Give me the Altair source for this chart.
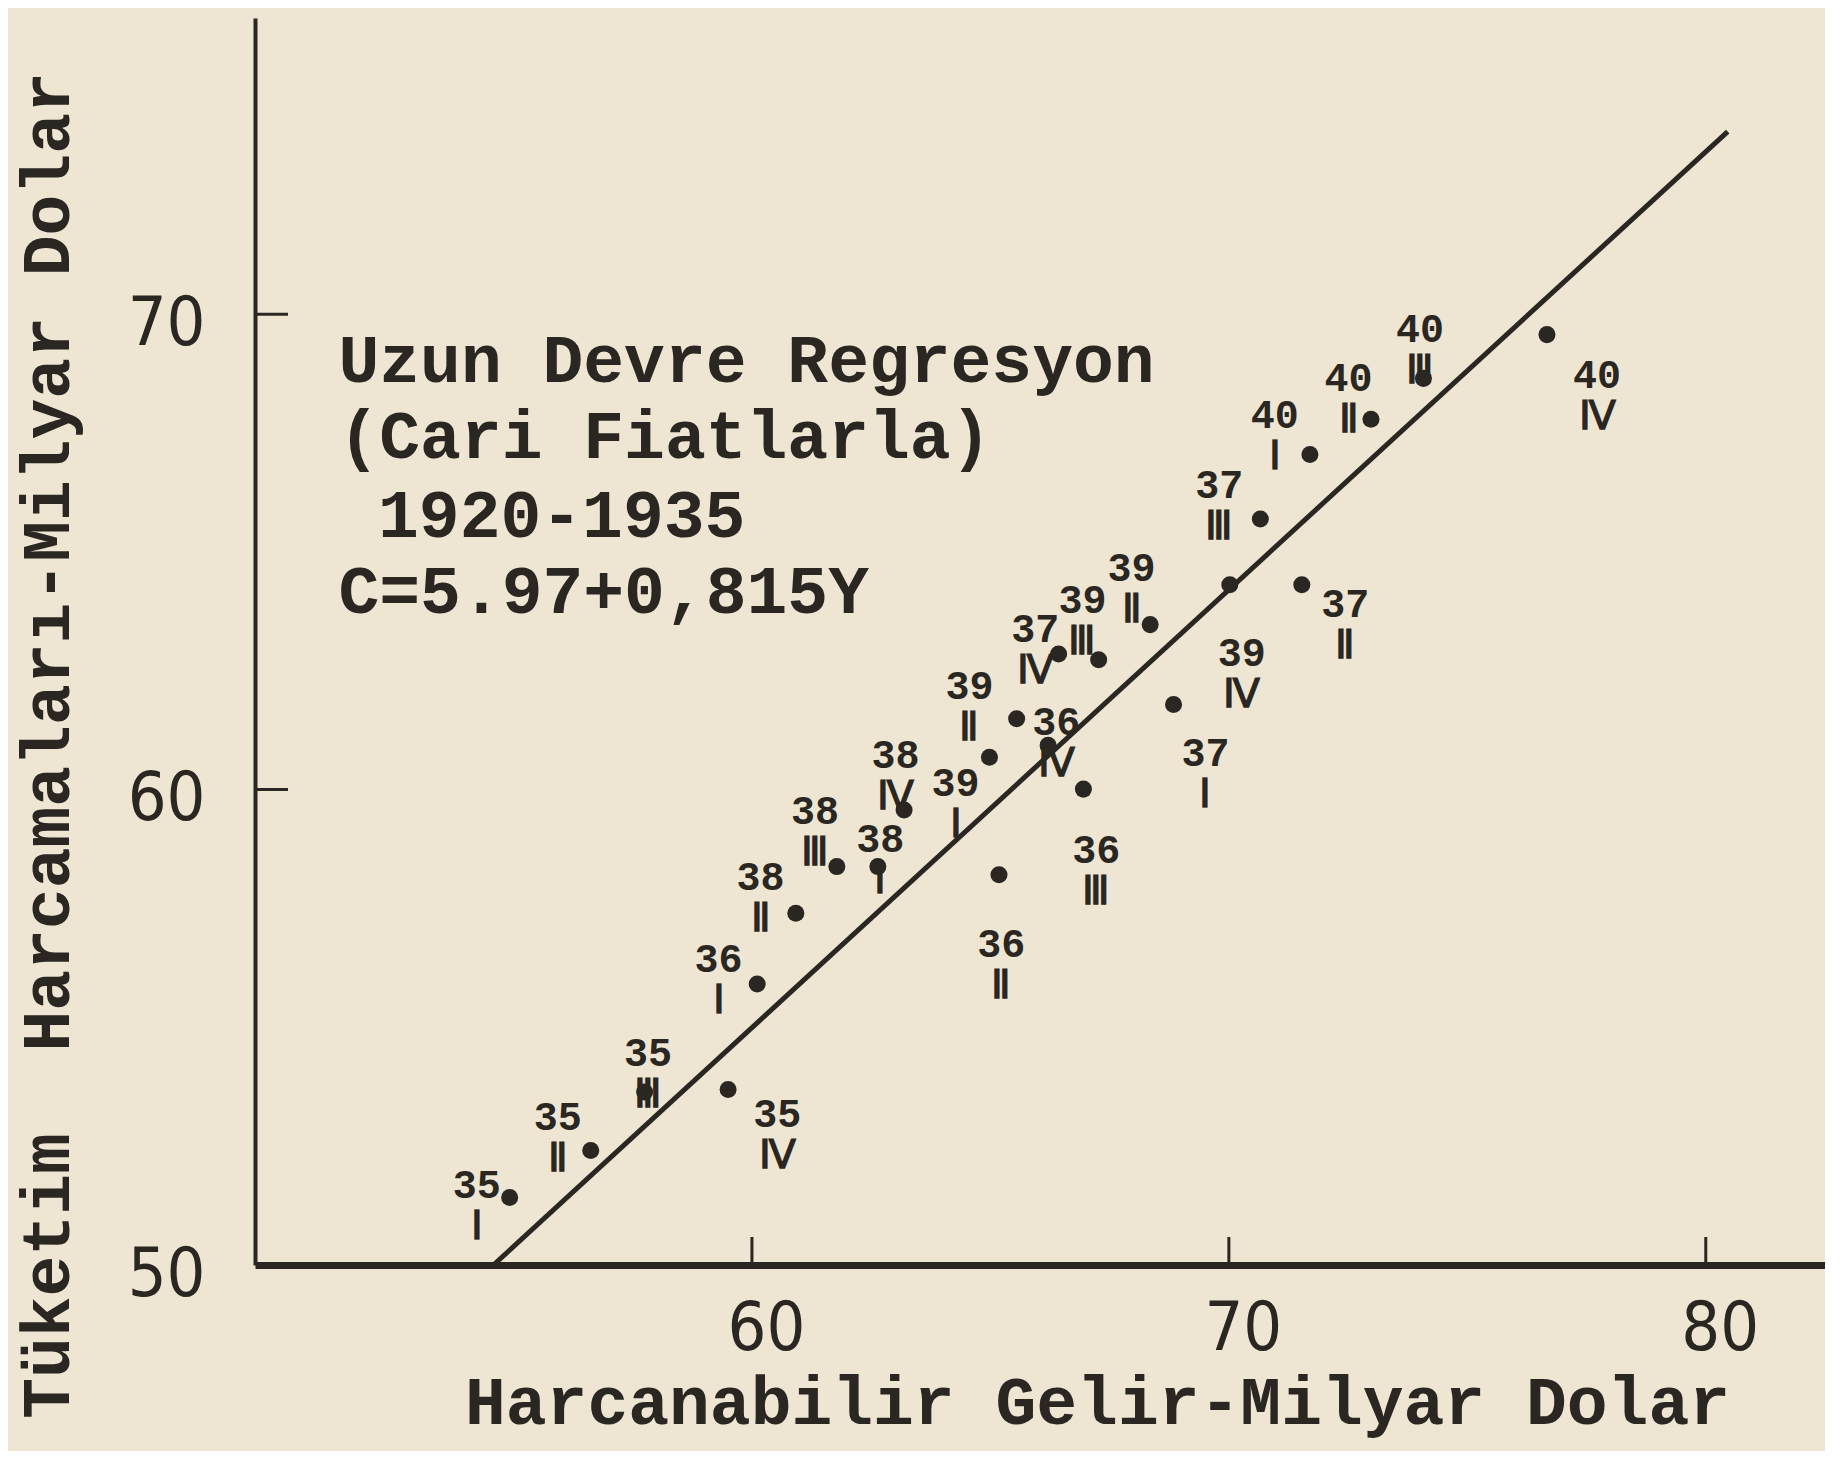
import altair as alt
import pandas as pd

INK = "#2a2622"
PAPER = "#eee6d2"
MONO = "'Liberation Mono', 'Courier New', Courier, monospace"
NARROW = "'Liberation Sans Narrow', 'DejaVu Sans Condensed', sans-serif"

# ---- data ----
years = ["35", "35", "35", "35",
         "36", "36", "36", "36",
         "37", "37", "37", "37",
         "38", "38", "38", "38",
         "39", "39", "39", "39", "39",
         "40", "40", "40", "40"]
quarters = ["Ⅰ", "Ⅱ", "Ⅲ", "Ⅳ",
            "Ⅰ", "Ⅱ", "Ⅲ", "Ⅳ",
            "Ⅰ", "Ⅱ", "Ⅲ", "Ⅳ",
            "Ⅰ", "Ⅱ", "Ⅲ", "Ⅳ",
            "Ⅰ", "Ⅱ", "Ⅲ", "Ⅳ", "Ⅱ",
            "Ⅰ", "Ⅱ", "Ⅲ", "Ⅳ"]
income = [54.92, 56.62, 57.75, 59.50,
          60.11, 65.18, 66.95, 66.21,
          68.84, 71.53, 70.66, 66.43,
          62.64, 60.92, 61.78, 63.19,
          64.98, 68.35, 67.27, 70.02, 65.55,
          71.70, 72.98, 74.08, 76.67]
consumption = [51.42, 52.41, 53.64, 53.69,
               55.91, 58.21, 60.01, 60.93,
               61.79, 64.31, 65.69, 62.85,
               58.38, 57.40, 58.38, 59.57,
               60.68, 63.47, 62.73, 64.31, 61.49,
               67.05, 67.79, 68.65, 69.57]
# label anchors (data units)
label_x = [54.23, 55.93, 57.82, 60.53,
           59.30, 65.23, 67.22, 66.38,
           69.51, 72.44, 69.80, 65.94,
           62.69, 60.18, 61.32, 63.01,
           64.27, 67.96, 66.93, 70.27, 64.56,
           70.96, 72.51, 74.01, 77.72]
label_y = [51.67, 53.10, 54.43, 53.15,
           56.41, 56.73, 58.70, 61.40,
           60.75, 63.89, 66.38, 63.35,
           58.95, 58.14, 59.52, 60.70,
           60.11, 64.63, 63.96, 62.85, 62.16,
           67.86, 68.63, 69.67, 68.70]

# regression line end points as drawn
line_x = [54.58, 80.46]
line_y = [50.0, 73.84]

# annotation block
note_lines = ["Uzun Devre Regresyon", "(Cari Fiatlarla)", "1920-1935", "C=5.97+0,815Y"]
note_x = [51.33, 51.33, 52.16, 51.33]
note_y = [69.00, 67.40, 65.74, 64.14]

x_ticks = [60, 70, 80]
y_ticks = [50, 60, 70]
x_domain = [49.58, 82.5]
y_domain = [50.0, 76.23]

x_title = "Harcanabilir Gelir-Milyar Dolar"
y_title = "Tüketim\u00a0 Harcamaları-Milyar Dolar"

# ---- tables ----
pts = pd.DataFrame({
    "year": years, "q": quarters, "inc": income, "con": consumption,
    "lx": label_x, "ly": label_y,
})
pts["label"] = pts["year"] + "\n" + pts["q"]
reg = pd.DataFrame({"inc": line_x, "con": line_y})
note = pd.DataFrame({"t": note_lines, "y": note_y, "x": note_x})
xt = pd.DataFrame({"v": x_ticks})
yt = pd.DataFrame({"v": [v for v in y_ticks if v > y_domain[0]]})

xs = alt.Scale(domain=x_domain, nice=False, zero=False)
ys = alt.Scale(domain=y_domain, nice=False, zero=False)

x_enc = alt.X("inc:Q", scale=xs, axis=alt.Axis(
    values=x_ticks, ticks=False, grid=False, title=x_title,
    domainColor=INK, domainWidth=7,
    labelFont=NARROW, labelFontSize=68, labelColor=INK, labelPadding=30,
    labelOffset=14, labelFlush=False,
    titleFont=MONO, titleFontSize=68, titleFontWeight="bold", titleColor=INK,
    titleX=842, titleY=138, titleAlign="center", titleBaseline="middle", titleAnchor="start",
))
y_enc = alt.Y("con:Q", scale=ys, axis=alt.Axis(
    values=y_ticks, ticks=False, grid=False, title=y_title,
    domainColor=INK, domainWidth=4,
    labelFont=NARROW, labelFontSize=68, labelColor=INK, labelPadding=50,
    labelOffset=10, labelFlush=False,
    titleFont=MONO, titleFontSize=68, titleFontWeight="bold", titleColor=INK,
    titleX=-207, titleY=727, titleAngle=270, titleAlign="center", titleBaseline="middle",
    titleAnchor="start",
))

base = alt.Chart(pts)

dots = base.mark_circle(size=290, color=INK, opacity=1).encode(x=x_enc, y=y_enc)

labels = base.mark_text(
    font=MONO, fontSize=40, fontWeight="bold", color=INK,
    lineBreak="\n", lineHeight=41, align="center", baseline="middle",
).encode(
    x=alt.X("lx:Q", scale=xs),
    y=alt.Y("ly:Q", scale=ys),
    text="label:N",
)

regline = alt.Chart(reg).mark_line(color=INK, strokeWidth=5).encode(
    x=alt.X("inc:Q", scale=xs), y=alt.Y("con:Q", scale=ys)
)

note_txt = alt.Chart(note).mark_text(
    font=MONO, fontSize=68, fontWeight="bold", color=INK, align="left", baseline="middle",
).encode(
    x=alt.X("x:Q", scale=xs), y=alt.Y("y:Q", scale=ys), text="t:N"
)

xtick_rules = alt.Chart(xt).mark_rule(color=INK, strokeWidth=3, y2Offset=-28).encode(
    x=alt.X("v:Q", scale=xs), y=alt.datum(y_domain[0]), y2=alt.datum(y_domain[0])
)
ytick_rules = alt.Chart(yt).mark_rule(color=INK, strokeWidth=3, x2Offset=33).encode(
    y=alt.Y("v:Q", scale=ys), x=alt.datum(x_domain[0]), x2=alt.datum(x_domain[0])
)

chart = alt.layer(
    regline, xtick_rules, ytick_rules, note_txt, labels, dots
).properties(
    width=1570, height=1247,
    autosize=alt.AutoSizeParams(type="none"),
    padding={"left": 247, "top": 10, "right": 0, "bottom": 186},
    background=PAPER,
).configure_view(stroke=None)

chart.save("out.html", embed_options={"renderer": "svg", "actions": False})
